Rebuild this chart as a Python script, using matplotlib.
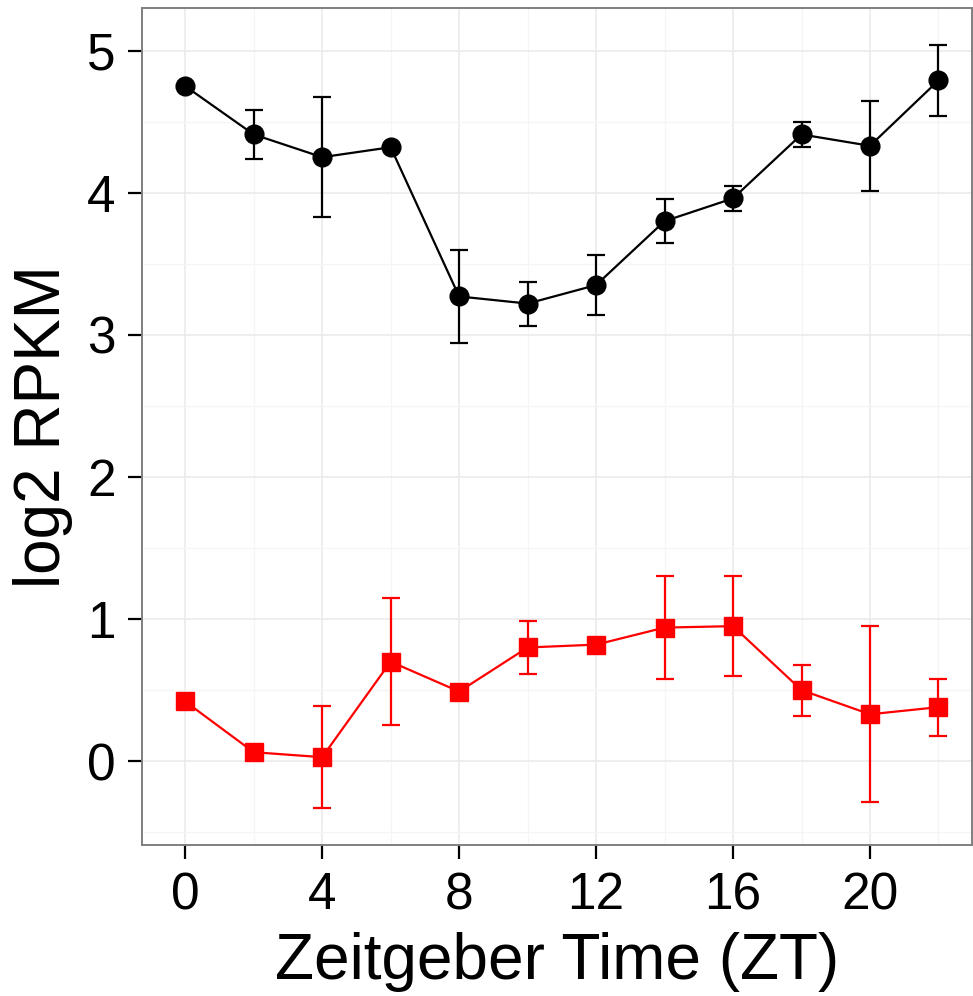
import matplotlib.pyplot as plt
import numpy as np

plt.rcParams['font.family'] = ['Liberation Sans', 'DejaVu Sans']

zt = [0, 2, 4, 6, 8, 10, 12, 14, 16, 18, 20, 22]

black_mean = [4.75, 4.41, 4.25, 4.32, 3.27, 3.22, 3.35, 3.80, 3.96, 4.41, 4.33, 4.79]
black_err = [0.0, 0.17, 0.42, 0.0, 0.33, 0.155, 0.21, 0.155, 0.09, 0.085, 0.315, 0.25]

red_mean = [0.42, 0.063, 0.028, 0.70, 0.49, 0.80, 0.82, 0.94, 0.95, 0.50, 0.33, 0.38]
red_err = [0.0, 0.0, 0.36, 0.445, 0.0, 0.185, 0.0, 0.365, 0.35, 0.18, 0.62, 0.20]

fig = plt.figure(figsize = (9.73, 9.96), dpi = 100)
ax = fig.add_axes([0.146, 0.1516, 0.853, 0.8404])

ax.errorbar(zt, black_mean, yerr = black_err, color = "black", marker = "o", markersize = 13.5,
            linewidth = 1.6, elinewidth = 1.6, capsize = 6.5, capthick = 1.6, zorder = 3)
ax.errorbar(zt, red_mean, yerr = red_err, color = "#ff0000", marker = "s", markersize = 13.5,
            linewidth = 1.6, elinewidth = 1.6, capsize = 6.5, capthick = 1.6, zorder = 3)

ax.set_xlim(-1.26, 22.98)
ax.set_ylim(-0.59, 5.30)
ax.set_xticks(np.arange(0, 21, 4))
ax.set_xticks(np.arange(2, 23, 4), minor = True)
ax.set_yticks(np.arange(0, 6, 1))
ax.set_yticks(np.arange(-0.5, 5.5, 1), minor = True)
ax.grid(which = "major", color = "#ebebeb", linewidth = 1.2, zorder = 0)
ax.grid(which = "minor", color = "#f5f5f5", linewidth = 1.0, zorder = 0)
ax.set_axisbelow(True)

for s in ax.spines.values():
    s.set_color("#7f7f7f")
    s.set_linewidth(1.4)

ax.tick_params(which = "major", length = 10, width = 1.6, color = "black", labelsize = 37, pad = 9)
ax.tick_params(which = "minor", length = 0)
ax.set_xlabel("Zeitgeber Time (ZT)", fontsize = 46, labelpad = 8)
ax.set_ylabel("log2 RPKM", fontsize = 46, labelpad = 10)

plt.savefig("out.png", dpi = 100)
plt.close()
